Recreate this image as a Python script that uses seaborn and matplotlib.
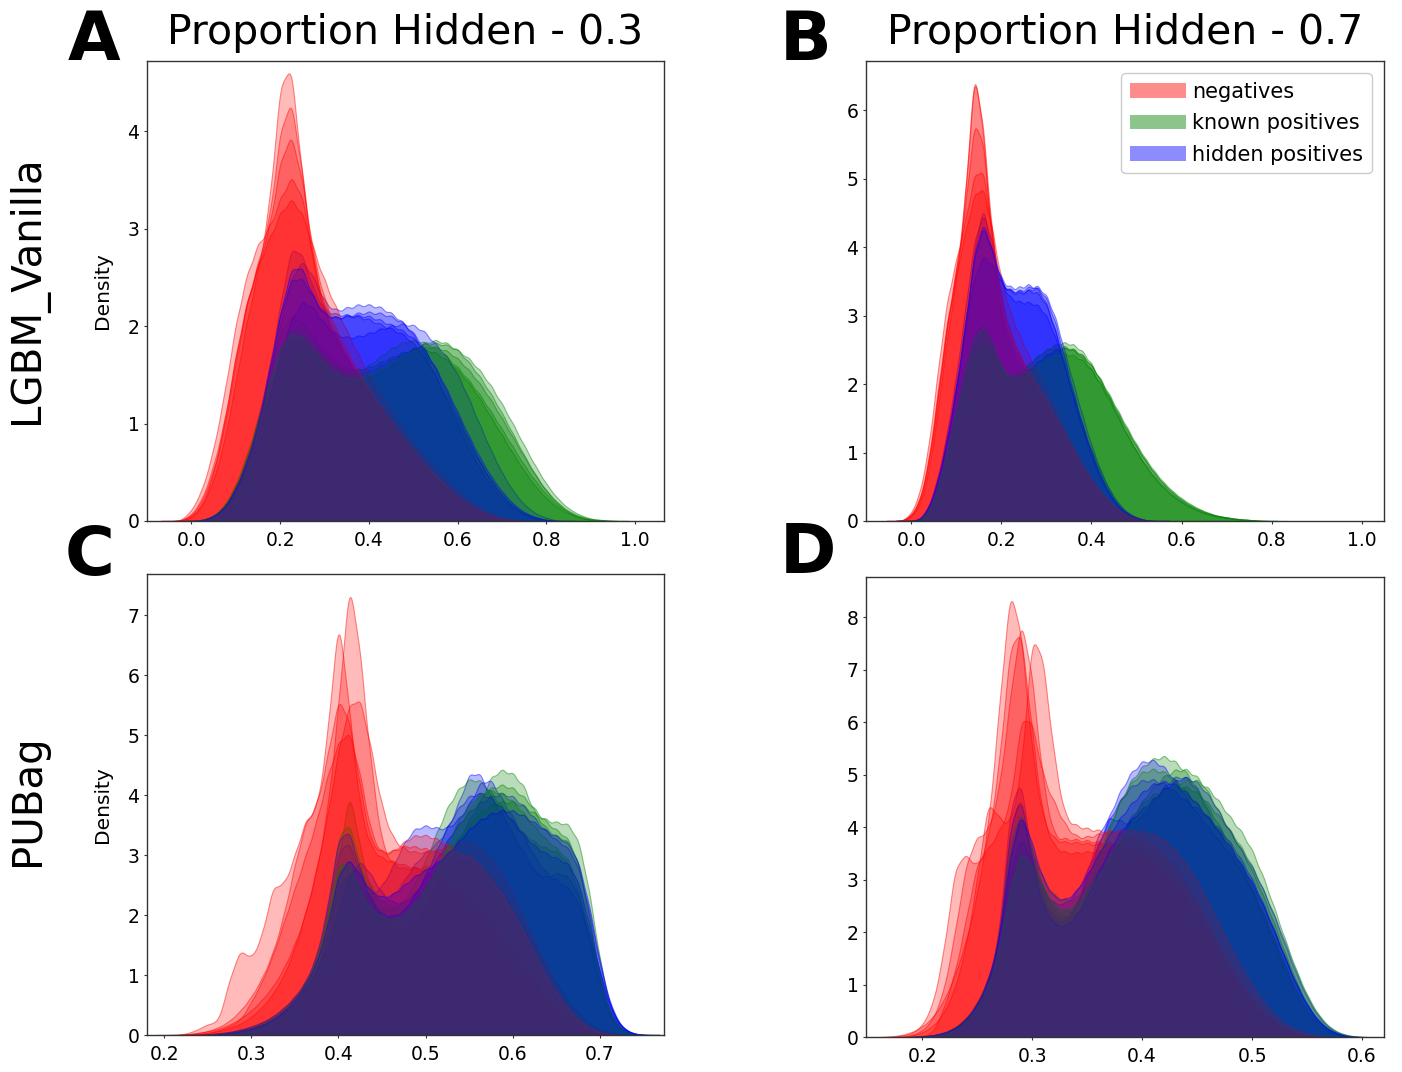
import numpy as np
import matplotlib
matplotlib.use("Agg")
import matplotlib.pyplot as plt
import seaborn as sns
from matplotlib.patches import Patch
from matplotlib.colors import to_rgba

# ---------------- data (density values read on regular score grids) ----------------
CLASSES = ["negatives", "known positives", "hidden positives"]
COLORS = ["red", "green", "blue"]
ROW_LABELS = ["LGBM_Vanilla", "PUBag"]
COL_TITLES = ["Proportion Hidden - 0.3", "Proportion Hidden - 0.7"]
PANEL_LETTERS = ["A", "B", "C", "D"]

# Panel A : LGBM_Vanilla, hidden 0.3  (grid -0.025 .. 1.0, step 0.025)
A_STEP = 0.025
A_X = np.round(-0.025 + A_STEP * np.arange(42), 4)
A_NEG = [
    [0, 0.03, 0.15, 0.4, 0.8, 1.4, 2.0, 2.5, 3.1, 4.4, 4.6, 3.4, 2.5, 2.05, 1.82, 1.62, 1.44, 1.28, 1.12, 0.97, 0.82, 0.68, 0.55, 0.43, 0.32, 0.23, 0.15, 0.09, 0.05, 0.02, 0.01],
    [0, 0.05, 0.2, 0.5, 0.95, 1.6, 2.2, 2.6, 3.0, 3.95, 4.3, 3.5, 2.6, 2.1, 1.85, 1.64, 1.46, 1.3, 1.14, 0.98, 0.83, 0.69, 0.56, 0.44, 0.33, 0.23, 0.15, 0.09, 0.05, 0.02, 0.01],
    [0, 0.1, 0.32, 0.72, 1.3, 2.0, 2.5, 2.8, 2.95, 3.25, 3.5, 3.3, 2.6, 2.15, 1.9, 1.68, 1.48, 1.3, 1.14, 0.98, 0.83, 0.69, 0.56, 0.44, 0.33, 0.24, 0.16, 0.1, 0.05, 0.02, 0.01],
    [0, 0.04, 0.15, 0.45, 0.95, 1.6, 2.1, 2.45, 2.7, 2.95, 3.1, 2.95, 2.6, 2.3, 2.05, 1.82, 1.6, 1.4, 1.22, 1.05, 0.9, 0.75, 0.62, 0.5, 0.39, 0.29, 0.2, 0.13, 0.07, 0.03, 0.01],
    [0, 0.06, 0.22, 0.55, 1.0, 1.65, 2.2, 2.55, 2.9, 3.6, 3.9, 3.4, 2.65, 2.2, 1.92, 1.7, 1.5, 1.32, 1.15, 0.99, 0.84, 0.7, 0.57, 0.45, 0.34, 0.24, 0.16, 0.1, 0.05, 0.02, 0.01],
]
A_KNOWN = [
    [0, 0, 0.01, 0.05, 0.15, 0.35, 0.6, 0.95, 1.35, 1.7, 1.9, 1.9, 1.75, 1.6, 1.5, 1.45, 1.45, 1.5, 1.55, 1.62, 1.7, 1.78, 1.85, 1.88, 1.85, 1.78, 1.65, 1.5, 1.32, 1.12, 0.9, 0.68, 0.48, 0.31, 0.18, 0.09, 0.04, 0.015, 0.005],
    [0, 0, 0, 0.04, 0.15, 0.35, 0.65, 1.0, 1.45, 1.85, 2.02, 1.95, 1.8, 1.65, 1.55, 1.5, 1.48, 1.5, 1.55, 1.6, 1.65, 1.68, 1.68, 1.65, 1.58, 1.48, 1.35, 1.2, 1.02, 0.84, 0.66, 0.49, 0.34, 0.22, 0.13, 0.07, 0.03, 0.01],
    [0, 0, 0, 0.03, 0.1, 0.25, 0.45, 0.75, 1.05, 1.35, 1.55, 1.68, 1.68, 1.6, 1.52, 1.47, 1.45, 1.47, 1.52, 1.58, 1.64, 1.7, 1.74, 1.75, 1.73, 1.68, 1.6, 1.48, 1.33, 1.15, 0.95, 0.74, 0.54, 0.36, 0.22, 0.12, 0.06, 0.02, 0.01],
    [0, 0, 0, 0.04, 0.13, 0.3, 0.55, 0.9, 1.3, 1.65, 1.83, 1.82, 1.7, 1.55, 1.45, 1.4, 1.42, 1.48, 1.56, 1.64, 1.7, 1.72, 1.7, 1.64, 1.56, 1.46, 1.34, 1.2, 1.04, 0.87, 0.7, 0.53, 0.38, 0.25, 0.15, 0.08, 0.03, 0.01],
    [0, 0, 0.01, 0.05, 0.16, 0.36, 0.66, 1.02, 1.42, 1.78, 1.95, 1.9, 1.76, 1.62, 1.52, 1.47, 1.47, 1.5, 1.56, 1.63, 1.7, 1.76, 1.8, 1.8, 1.76, 1.68, 1.56, 1.42, 1.25, 1.06, 0.86, 0.66, 0.47, 0.31, 0.19, 0.1, 0.05, 0.02, 0.01],
]
A_HIDDEN = [
    [0, 0, 0.01, 0.05, 0.15, 0.35, 0.65, 1.05, 1.6, 2.3, 2.95, 2.85, 2.45, 2.25, 2.2, 2.2, 2.18, 2.15, 2.1, 2.05, 2.0, 1.9, 1.75, 1.55, 1.32, 1.08, 0.84, 0.62, 0.43, 0.28, 0.16, 0.08, 0.035, 0.01],
    [0, 0, 0, 0.04, 0.12, 0.3, 0.55, 0.9, 1.35, 1.9, 2.35, 2.52, 2.35, 2.1, 2.02, 2.05, 2.08, 2.08, 2.06, 2.0, 1.92, 1.8, 1.62, 1.4, 1.16, 0.92, 0.7, 0.5, 0.34, 0.21, 0.12, 0.06, 0.02],
    [0, 0, 0, 0.04, 0.12, 0.28, 0.5, 0.8, 1.15, 1.55, 1.9, 2.08, 2.0, 1.85, 1.75, 1.72, 1.73, 1.76, 1.8, 1.83, 1.85, 1.84, 1.78, 1.66, 1.55, 1.38, 1.15, 0.9, 0.66, 0.45, 0.28, 0.15, 0.07, 0.03],
    [0, 0, 0, 0.04, 0.13, 0.32, 0.6, 0.98, 1.5, 2.05, 2.4, 2.4, 2.2, 2.05, 2.0, 2.02, 2.05, 2.06, 2.05, 2.02, 1.96, 1.86, 1.7, 1.5, 1.27, 1.03, 0.8, 0.58, 0.4, 0.25, 0.14, 0.07, 0.03, 0.01],
    [0, 0, 0.01, 0.05, 0.14, 0.33, 0.62, 1.0, 1.55, 2.2, 2.7, 2.7, 2.35, 2.18, 2.15, 2.17, 2.18, 2.17, 2.13, 2.08, 2.02, 1.94, 1.82, 1.63, 1.4, 1.15, 0.9, 0.67, 0.47, 0.31, 0.18, 0.09, 0.04, 0.01],
]

# Panel B : LGBM_Vanilla, hidden 0.7  (grid -0.02 .. 0.84, step 0.02)
B_STEP = 0.02
B_X = np.round(-0.02 + B_STEP * np.arange(44), 4)
B_NEG = [
    [0, 0.08, 0.3, 0.9, 1.9, 2.9, 3.6, 4.6, 6.7, 5.6, 3.9, 2.9, 2.5, 2.25, 2.05, 1.85, 1.65, 1.42, 1.18, 0.95, 0.73, 0.54, 0.38, 0.25, 0.15, 0.08, 0.04, 0.01],
    [0, 0.05, 0.22, 0.7, 1.6, 2.6, 3.4, 4.5, 6.5, 5.6, 4.0, 3.0, 2.55, 2.3, 2.08, 1.88, 1.67, 1.44, 1.2, 0.96, 0.74, 0.55, 0.38, 0.25, 0.15, 0.08, 0.04, 0.01],
    [0, 0.1, 0.4, 1.1, 2.2, 3.2, 3.75, 4.3, 5.0, 5.1, 4.1, 3.2, 2.7, 2.4, 2.15, 1.92, 1.7, 1.46, 1.22, 0.98, 0.76, 0.56, 0.39, 0.26, 0.16, 0.09, 0.04, 0.01],
    [0, 0.06, 0.25, 0.8, 1.7, 2.7, 3.4, 3.95, 4.5, 4.6, 4.0, 3.3, 2.85, 2.55, 2.28, 2.03, 1.79, 1.54, 1.28, 1.03, 0.8, 0.59, 0.41, 0.27, 0.16, 0.09, 0.04, 0.01],
    [0, 0.07, 0.28, 0.85, 1.8, 2.8, 3.5, 4.4, 5.7, 5.4, 3.9, 3.0, 2.6, 2.35, 2.12, 1.9, 1.7, 1.46, 1.22, 0.98, 0.76, 0.56, 0.39, 0.26, 0.15, 0.08, 0.04, 0.01],
]
B_KNOWN = [
    [0, 0, 0.02, 0.15, 0.5, 1.05, 1.6, 2.2, 2.7, 2.85, 2.55, 2.15, 2.02, 2.05, 2.15, 2.28, 2.38, 2.45, 2.48, 2.45, 2.35, 2.18, 1.96, 1.72, 1.47, 1.22, 1.0, 0.8, 0.63, 0.49, 0.37, 0.28, 0.2, 0.14, 0.1, 0.07, 0.05, 0.03, 0.02, 0.01, 0.005],
    [0, 0, 0.01, 0.12, 0.42, 0.92, 1.45, 2.0, 2.5, 2.7, 2.45, 2.1, 1.98, 2.0, 2.1, 2.22, 2.32, 2.4, 2.42, 2.4, 2.32, 2.17, 1.97, 1.74, 1.5, 1.26, 1.04, 0.84, 0.66, 0.51, 0.39, 0.29, 0.21, 0.15, 0.1, 0.07, 0.05, 0.03, 0.02, 0.01],
    [0, 0, 0.02, 0.13, 0.45, 0.95, 1.5, 2.05, 2.5, 2.6, 2.4, 2.1, 2.0, 2.05, 2.17, 2.3, 2.4, 2.47, 2.5, 2.47, 2.38, 2.2, 1.97, 1.72, 1.45, 1.2, 0.97, 0.77, 0.6, 0.46, 0.35, 0.26, 0.19, 0.13, 0.09, 0.06, 0.04, 0.02, 0.01],
    [0, 0, 0.01, 0.1, 0.38, 0.85, 1.35, 1.85, 2.3, 2.45, 2.3, 2.08, 2.0, 2.05, 2.15, 2.27, 2.35, 2.4, 2.4, 2.36, 2.28, 2.14, 1.95, 1.73, 1.5, 1.27, 1.05, 0.85, 0.68, 0.53, 0.41, 0.31, 0.23, 0.16, 0.11, 0.07, 0.05, 0.03, 0.02, 0.01],
    [0, 0, 0.02, 0.14, 0.48, 1.0, 1.55, 2.12, 2.6, 2.75, 2.5, 2.15, 2.0, 2.0, 2.08, 2.18, 2.27, 2.33, 2.35, 2.33, 2.26, 2.12, 1.93, 1.72, 1.49, 1.26, 1.04, 0.84, 0.67, 0.52, 0.4, 0.3, 0.22, 0.16, 0.11, 0.07, 0.05, 0.03, 0.02, 0.01],
]
B_HIDDEN = [
    [0, 0, 0.02, 0.2, 0.6, 1.2, 1.9, 2.8, 4.0, 4.75, 3.9, 3.5, 3.4, 3.38, 3.4, 3.38, 3.2, 2.8, 2.3, 1.8, 1.35, 1.05, 0.72, 0.45, 0.25, 0.12, 0.05, 0.01],
    [0, 0, 0.02, 0.2, 0.6, 1.2, 1.95, 2.85, 3.8, 4.2, 3.75, 3.2, 3.0, 2.95, 2.95, 2.92, 2.78, 2.48, 2.08, 1.68, 1.3, 0.93, 0.62, 0.38, 0.21, 0.1, 0.04, 0.01],
    [0, 0, 0.02, 0.17, 0.55, 1.1, 1.8, 2.6, 3.3, 3.6, 3.45, 3.2, 3.1, 3.1, 3.15, 3.18, 3.05, 2.75, 2.3, 1.85, 1.42, 1.02, 0.68, 0.42, 0.23, 0.11, 0.05, 0.01],
    [0, 0, 0.02, 0.19, 0.58, 1.15, 1.85, 2.7, 3.7, 4.15, 3.7, 3.3, 3.2, 3.2, 3.25, 3.2, 3.0, 2.62, 2.15, 1.68, 1.25, 0.87, 0.57, 0.35, 0.19, 0.09, 0.04, 0.01],
    [0, 0, 0.02, 0.18, 0.56, 1.12, 1.85, 2.75, 3.75, 4.2, 3.8, 3.35, 3.22, 3.2, 3.25, 3.3, 3.15, 2.8, 2.3, 1.8, 1.35, 0.95, 0.62, 0.38, 0.2, 0.1, 0.04, 0.01],
]

# Panel C : PUBag, hidden 0.3  (grid 0.2 .. 0.75, step 0.0125)
C_STEP = 0.0125
C_X = np.round(0.2 + C_STEP * np.arange(45), 5)
C_NEG = [
    [0, 0, 0.01, 0.03, 0.06, 0.1, 0.17, 0.27, 0.4, 0.58, 0.8, 1.1, 1.5, 2.0, 2.7, 3.7, 5.4, 7.7, 6.3, 4.4, 3.1, 2.8, 2.75, 2.75, 2.78, 2.8, 2.82, 2.85, 2.85, 2.78, 2.62, 2.4, 2.12, 1.8, 1.48, 1.15, 0.85, 0.58, 0.36, 0.2, 0.09, 0.03, 0.01],
    [0, 0, 0.02, 0.08, 0.18, 0.2, 0.9, 1.42, 1.2, 1.6, 2.45, 2.4, 2.9, 3.5, 3.6, 4.8, 7.0, 5.2, 3.6, 3.0, 2.85, 2.8, 2.75, 2.7, 2.65, 2.55, 2.45, 2.32, 2.18, 2.0, 1.8, 1.58, 1.35, 1.1, 0.85, 0.62, 0.42, 0.26, 0.14, 0.06, 0.02],
    [0, 0, 0.01, 0.03, 0.06, 0.12, 0.22, 0.38, 0.6, 0.9, 1.3, 1.9, 2.7, 3.4, 3.6, 4.4, 5.4, 5.0, 3.9, 3.0, 2.9, 2.9, 3.0, 2.98, 2.95, 2.9, 2.85, 2.78, 2.68, 2.52, 2.3, 2.05, 1.75, 1.42, 1.1, 0.8, 0.54, 0.33, 0.18, 0.08, 0.03, 0.01],
    [0, 0, 0, 0.01, 0.03, 0.06, 0.1, 0.17, 0.27, 0.42, 0.62, 0.9, 1.3, 1.85, 2.5, 3.3, 4.3, 5.0, 5.1, 4.3, 3.4, 2.95, 2.8, 2.75, 2.75, 2.78, 2.85, 2.9, 2.9, 2.82, 2.65, 2.42, 2.12, 1.78, 1.42, 1.06, 0.74, 0.47, 0.27, 0.13, 0.05, 0.02],
    [0, 0, 0, 0.01, 0.03, 0.07, 0.13, 0.22, 0.5, 0.8, 1.2, 1.7, 2.2, 2.7, 3.2, 3.9, 4.4, 4.6, 3.9, 3.0, 2.7, 2.75, 2.9, 3.0, 3.0, 2.95, 2.85, 2.72, 2.7, 2.55, 2.35, 2.12, 1.85, 1.55, 1.22, 0.9, 0.62, 0.4, 0.22, 0.1, 0.04, 0.01],
]
C_KNOWN = [
    [0, 0, 0, 0, 0.01, 0.02, 0.04, 0.07, 0.12, 0.18, 0.27, 0.4, 0.55, 0.75, 1.05, 1.6, 3.0, 4.4, 3.2, 2.5, 2.0, 1.85, 1.85, 1.95, 2.15, 2.6, 2.95, 3.35, 3.75, 4.05, 4.5, 4.62, 4.55, 4.35, 3.85, 3.6, 3.45, 3.4, 3.05, 2.1, 0.95, 0.3, 0.07, 0.01],
    [0, 0, 0, 0, 0.01, 0.02, 0.04, 0.07, 0.12, 0.19, 0.29, 0.43, 0.62, 0.88, 1.25, 1.9, 2.8, 3.0, 2.6, 2.25, 2.1, 2.1, 2.25, 2.55, 2.95, 3.4, 3.85, 4.15, 4.32, 4.3, 4.1, 3.85, 3.6, 3.4, 3.25, 3.15, 3.1, 2.95, 2.45, 1.6, 0.75, 0.25, 0.06, 0.01],
    [0, 0, 0, 0, 0, 0.01, 0.03, 0.06, 0.1, 0.16, 0.25, 0.38, 0.55, 0.78, 1.1, 1.55, 2.2, 2.7, 2.75, 2.45, 2.2, 2.1, 2.12, 2.25, 2.45, 2.7, 2.98, 3.25, 3.5, 3.68, 3.8, 3.85, 3.85, 3.78, 3.65, 3.55, 3.5, 3.5, 3.25, 2.4, 1.2, 0.4, 0.1, 0.02],
    [0, 0, 0, 0, 0.01, 0.02, 0.04, 0.08, 0.13, 0.2, 0.3, 0.44, 0.62, 0.87, 1.25, 2.0, 3.3, 3.5, 2.75, 2.2, 1.95, 1.88, 1.92, 2.1, 2.4, 2.75, 3.15, 3.5, 3.78, 3.95, 4.0, 3.95, 3.82, 3.62, 3.4, 3.2, 3.05, 2.9, 2.5, 1.7, 0.82, 0.28, 0.07, 0.01],
    [0, 0, 0, 0, 0, 0.01, 0.03, 0.06, 0.1, 0.16, 0.25, 0.38, 0.56, 0.82, 1.2, 1.9, 2.85, 2.8, 2.35, 2.05, 1.92, 1.9, 1.98, 2.15, 2.4, 2.7, 3.05, 3.4, 3.7, 3.92, 4.05, 4.1, 4.05, 3.9, 3.7, 3.5, 3.35, 3.25, 2.85, 1.95, 0.9, 0.3, 0.07, 0.01],
]
C_HIDDEN = [
    [0, 0, 0, 0, 0.01, 0.03, 0.05, 0.09, 0.14, 0.21, 0.31, 0.45, 0.64, 0.9, 1.3, 2.1, 3.3, 3.4, 2.8, 2.5, 2.3, 2.45, 2.7, 3.0, 3.2, 3.35, 3.6, 4.05, 4.6, 4.6, 4.15, 3.9, 3.5, 3.2, 2.85, 2.75, 2.85, 2.8, 2.5, 1.8, 1.1, 0.45, 0.13, 0.03],
    [0, 0, 0, 0, 0, 0.01, 0.03, 0.06, 0.1, 0.16, 0.25, 0.38, 0.55, 0.78, 1.1, 1.7, 2.6, 2.8, 2.5, 2.4, 2.55, 2.9, 3.3, 3.55, 3.6, 3.55, 3.55, 3.7, 3.95, 4.35, 4.4, 4.05, 3.75, 3.4, 3.05, 2.8, 2.65, 2.55, 2.3, 1.7, 0.9, 0.35, 0.09, 0.02],
    [0, 0, 0, 0, 0, 0.01, 0.02, 0.05, 0.09, 0.15, 0.24, 0.36, 0.52, 0.74, 1.02, 1.4, 1.95, 2.55, 2.8, 2.55, 2.25, 2.1, 2.1, 2.25, 2.5, 2.8, 3.1, 3.35, 3.55, 3.7, 3.8, 3.85, 3.8, 3.65, 3.45, 3.25, 3.1, 3.0, 2.7, 2.0, 1.1, 0.42, 0.12, 0.02],
    [0, 0, 0, 0, 0.01, 0.03, 0.05, 0.09, 0.14, 0.21, 0.31, 0.45, 0.63, 0.88, 1.3, 2.1, 3.3, 3.4, 2.7, 2.2, 1.98, 1.95, 2.05, 2.3, 2.65, 3.05, 3.45, 3.75, 3.95, 4.0, 3.92, 3.75, 3.52, 3.3, 3.12, 3.0, 2.92, 2.85, 2.55, 1.85, 1.0, 0.4, 0.12, 0.03],
    [0, 0, 0, 0, 0, 0.01, 0.03, 0.06, 0.1, 0.16, 0.25, 0.38, 0.56, 0.8, 1.15, 1.75, 2.6, 2.85, 2.55, 2.3, 2.2, 2.25, 2.4, 2.55, 2.65, 2.75, 2.9, 3.1, 3.3, 3.45, 3.55, 3.6, 3.6, 3.52, 3.4, 3.28, 3.18, 3.1, 2.8, 2.1, 1.15, 0.45, 0.12, 0.02],
]

# Panel D : PUBag, hidden 0.7  (grid 0.16 .. 0.6, step 0.01)
D_STEP = 0.01
D_X = np.round(0.16 + D_STEP * np.arange(45), 4)
D_NEG = [
    [0, 0.01, 0.03, 0.08, 0.18, 0.35, 0.65, 1.1, 1.7, 2.5, 3.7, 5.8, 8.1, 7.2, 5.0, 3.8, 3.5, 3.45, 3.45, 3.43, 3.42, 3.4, 3.4, 3.38, 3.36, 3.32, 3.22, 3.05, 2.75, 2.35, 1.95, 1.58, 1.22, 0.9, 0.65, 0.44, 0.28, 0.16, 0.08, 0.03, 0.01],
    [0, 0, 0.02, 0.06, 0.2, 0.6, 1.6, 3.2, 3.4, 3.1, 3.6, 5.0, 7.3, 7.6, 5.6, 4.0, 3.5, 3.4, 3.4, 3.42, 3.44, 3.45, 3.45, 3.42, 3.36, 3.25, 3.08, 2.85, 2.55, 2.2, 1.85, 1.5, 1.16, 0.86, 0.6, 0.4, 0.25, 0.14, 0.07, 0.03, 0.01],
    [0, 0, 0, 0.03, 0.1, 0.3, 0.8, 1.8, 3.0, 3.45, 3.5, 4.2, 5.8, 7.3, 6.2, 4.3, 3.4, 3.4, 3.38, 3.36, 3.35, 3.33, 3.3, 3.25, 3.15, 3.02, 2.85, 2.65, 2.4, 2.12, 1.75, 1.4, 1.05, 0.76, 0.52, 0.34, 0.2, 0.11, 0.05, 0.02],
    [0, 0, 0, 0.02, 0.07, 0.18, 0.4, 0.8, 1.5, 2.6, 4.0, 3.6, 3.5, 4.3, 6.8, 6.3, 4.6, 3.6, 3.5, 3.45, 3.42, 3.4, 3.38, 3.34, 3.28, 3.15, 2.98, 2.78, 2.52, 2.22, 1.9, 1.55, 1.22, 0.92, 0.66, 0.44, 0.27, 0.15, 0.07, 0.03, 0.01],
    [0, 0, 0, 0, 0.02, 0.06, 0.5, 1.1, 2.0, 3.0, 3.2, 3.5, 3.9, 5.5, 5.4, 4.4, 4.0, 3.6, 3.4, 3.4, 3.45, 3.5, 3.52, 3.52, 3.5, 3.45, 3.35, 3.18, 2.95, 2.65, 2.3, 1.92, 1.55, 1.2, 0.88, 0.6, 0.38, 0.22, 0.12, 0.05, 0.02],
]
D_KNOWN = [
    [0, 0, 0, 0, 0.01, 0.03, 0.07, 0.15, 0.3, 0.55, 0.95, 1.7, 4.2, 4.9, 3.6, 2.9, 2.5, 2.35, 2.4, 2.65, 3.0, 3.45, 3.9, 4.3, 4.65, 4.95, 5.15, 5.28, 5.3, 5.15, 4.85, 4.45, 4.05, 3.7, 3.3, 2.8, 2.25, 1.65, 1.1, 0.65, 0.33, 0.14, 0.05, 0.01],
    [0, 0, 0, 0, 0.01, 0.03, 0.07, 0.16, 0.32, 0.6, 1.05, 1.8, 3.4, 4.2, 3.4, 2.6, 2.2, 2.1, 2.25, 2.7, 3.3, 3.9, 4.4, 4.8, 5.05, 5.2, 5.25, 5.15, 4.95, 4.65, 4.3, 3.95, 3.6, 3.2, 2.75, 2.25, 1.72, 1.22, 0.78, 0.44, 0.21, 0.08, 0.02],
    [0, 0, 0, 0, 0.01, 0.03, 0.08, 0.17, 0.34, 0.62, 1.05, 1.7, 2.9, 3.7, 3.4, 2.9, 2.6, 2.5, 2.55, 2.75, 3.05, 3.4, 3.75, 4.05, 4.3, 4.45, 4.55, 4.6, 4.6, 4.5, 4.3, 4.05, 3.8, 3.5, 3.15, 2.72, 2.22, 1.68, 1.15, 0.7, 0.37, 0.16, 0.05, 0.01],
    [0, 0, 0, 0, 0.01, 0.03, 0.08, 0.17, 0.33, 0.6, 1.0, 1.8, 3.7, 4.3, 3.5, 2.75, 2.4, 2.3, 2.45, 2.85, 3.4, 3.95, 4.4, 4.75, 4.95, 5.0, 4.95, 4.8, 4.6, 4.35, 4.1, 3.85, 3.55, 3.2, 2.8, 2.32, 1.8, 1.28, 0.82, 0.46, 0.22, 0.08, 0.02],
    [0, 0, 0, 0, 0.01, 0.03, 0.07, 0.15, 0.3, 0.55, 0.95, 1.6, 2.8, 3.5, 3.2, 2.75, 2.45, 2.35, 2.45, 2.7, 3.0, 3.35, 3.7, 4.0, 4.25, 4.45, 4.6, 4.72, 4.8, 4.8, 4.65, 4.4, 4.1, 3.85, 3.5, 3.0, 2.42, 1.82, 1.25, 0.78, 0.42, 0.19, 0.07, 0.02],
]
D_HIDDEN = [
    [0, 0, 0, 0, 0.01, 0.03, 0.08, 0.18, 0.36, 0.65, 1.1, 2.0, 4.7, 5.3, 3.5, 2.7, 2.35, 2.3, 2.6, 3.3, 4.1, 4.45, 4.35, 4.3, 4.45, 4.75, 5.05, 5.25, 5.25, 5.0, 4.55, 4.1, 3.75, 3.45, 3.1, 2.65, 2.15, 1.6, 1.08, 0.65, 0.34, 0.15, 0.05, 0.01],
    [0, 0, 0, 0, 0.01, 0.03, 0.08, 0.17, 0.34, 0.62, 1.05, 1.8, 3.5, 4.2, 3.3, 2.55, 2.2, 2.15, 2.4, 2.9, 3.5, 4.05, 4.5, 4.85, 5.05, 5.08, 4.95, 4.7, 4.4, 4.1, 3.85, 3.6, 3.35, 3.05, 2.7, 2.28, 1.8, 1.3, 0.85, 0.5, 0.25, 0.1, 0.03],
    [0, 0, 0, 0, 0.01, 0.03, 0.07, 0.16, 0.32, 0.58, 1.0, 1.65, 3.0, 3.6, 3.1, 2.6, 2.35, 2.35, 2.55, 2.95, 3.4, 3.85, 4.2, 4.45, 4.55, 4.56, 4.5, 4.35, 4.18, 4.05, 3.9, 3.7, 3.45, 3.15, 2.8, 2.38, 1.9, 1.4, 0.93, 0.55, 0.28, 0.12, 0.04],
    [0, 0, 0, 0, 0.01, 0.03, 0.08, 0.17, 0.34, 0.62, 1.05, 1.85, 4.3, 4.9, 3.4, 2.6, 2.25, 2.2, 2.4, 2.8, 3.3, 3.75, 4.1, 4.35, 4.55, 4.75, 4.95, 5.12, 5.2, 5.1, 4.85, 4.5, 4.1, 3.75, 3.4, 2.95, 2.45, 1.88, 1.3, 0.8, 0.43, 0.19, 0.07, 0.02],
    [0, 0, 0, 0, 0.01, 0.03, 0.07, 0.15, 0.3, 0.56, 0.98, 1.7, 3.2, 4.0, 3.4, 2.75, 2.45, 2.4, 2.55, 2.85, 3.2, 3.55, 3.85, 4.1, 4.3, 4.45, 4.5, 4.45, 4.3, 4.1, 3.85, 3.6, 3.35, 3.05, 2.72, 2.32, 1.86, 1.38, 0.92, 0.55, 0.28, 0.12, 0.04],
]

# ---------------- style ----------------
sns.set_style("white")
plt.rcParams["font.family"] = ["DejaVu Sans"]
for key in ["text.color", "axes.labelcolor", "xtick.color", "ytick.color"]:
    plt.rcParams[key] = "black"
plt.rcParams["axes.edgecolor"] = "#333333"
plt.rcParams["axes.linewidth"] = 1.0

fig = plt.figure(figsize=(14.02, 10.72), dpi=100)
ax_rects = [
    [0.1049, 0.5140, 0.3687, 0.4291],
    [0.6177, 0.5140, 0.3695, 0.4291],
    [0.1049, 0.0345, 0.3687, 0.4301],
    [0.6177, 0.0326, 0.3695, 0.4291],
]
panels = [
    dict(x=A_X, step=A_STEP, groups=[A_NEG, A_KNOWN, A_HIDDEN], xlim=(-0.1, 1.065), ylim=(0, 4.72),
         xticks=[0.0, 0.2, 0.4, 0.6, 0.8, 1.0], yticks=[0, 1, 2, 3, 4]),
    dict(x=B_X, step=B_STEP, groups=[B_NEG, B_KNOWN, B_HIDDEN], xlim=(-0.1, 1.049), ylim=(0, 6.72),
         xticks=[0.0, 0.2, 0.4, 0.6, 0.8, 1.0], yticks=[0, 1, 2, 3, 4, 5, 6]),
    dict(x=C_X, step=C_STEP, groups=[C_NEG, C_KNOWN, C_HIDDEN], xlim=(0.1805, 0.7734), ylim=(0, 7.69),
         xticks=[0.2, 0.3, 0.4, 0.5, 0.6, 0.7], yticks=[0, 1, 2, 3, 4, 5, 6, 7]),
    dict(x=D_X, step=D_STEP, groups=[D_NEG, D_KNOWN, D_HIDDEN], xlim=(0.149, 0.62), ylim=(0, 8.77),
         xticks=[0.2, 0.3, 0.4, 0.5, 0.6], yticks=[0, 1, 2, 3, 4, 5, 6, 7, 8]),
]

ALPHA = 0.27
axes = []
for i, (rect, p) in enumerate(zip(ax_rects, panels)):
    ax = fig.add_axes(rect)
    axes.append(ax)
    grid = p["x"]
    n_rep = len(p["groups"][0])
    for r in range(n_rep):
        for vals, color in zip(p["groups"], COLORS):
            dens = np.asarray(vals[r], dtype=float)
            xs_all = grid[:len(dens)]
            keep = dens > 0
            xs, ws = xs_all[keep], dens[keep]
            sd = np.sqrt(np.cov(xs, aweights=ws))
            sns.kdeplot(x=xs, weights=ws, bw_method=0.55 * p["step"] / sd, fill=True,
                        color=color, alpha=ALPHA, edgecolor=to_rgba(color, 0.45),
                        linewidth=0.8, gridsize=600, cut=3, ax=ax)
    ax.set_xlim(*p["xlim"])
    ax.set_ylim(*p["ylim"])
    ax.set_xticks(p["xticks"])
    ax.set_yticks(p["yticks"])
    ax.tick_params(axis="both", which="both", bottom=True, left=True, length=2.5, width=0.8,
                   color="#333333", labelsize=13.5, labelcolor="black")
    ax.tick_params(axis="x", pad=5)
    ax.tick_params(axis="y", pad=3)
    for s in ax.spines.values():
        s.set_visible(True)
        s.set_color("#333333")
        s.set_linewidth(1.0)
    if i % 2 == 0:
        ax.set_ylabel("Density", fontsize=14.5, labelpad=11, color="black")
    else:
        ax.set_ylabel("")
    ax.set_xlabel("")
    if i < 2:
        ax.set_title(COL_TITLES[i], fontsize=29.5, pad=12, color="black")

# legend in panel B
handles = [Patch(facecolor=to_rgba(c, 0.45), edgecolor="none") for c in COLORS]
leg = axes[1].legend(handles, CLASSES, loc="upper right", fontsize=15, handlelength=2.7,
                     handletextpad=0.3, labelspacing=0.55, frameon=True, fancybox=True,
                     edgecolor="#cccccc", framealpha=1.0, borderaxespad=0.6)
for t in leg.get_texts():
    t.set_color("black")

# row labels
fig.text(28 / 1402, 1 - 290 / 1072, ROW_LABELS[0], rotation=90, fontsize=29, ha="center", va="center", color="black")
fig.text(28 / 1402, 1 - 800 / 1072, ROW_LABELS[1], rotation=90, fontsize=29, ha="center", va="center", color="black")

# panel letters
letter_pos = [(94, 60), (806, 60), (90, 575), (808, 573)]
for letter, (px, py) in zip(PANEL_LETTERS, letter_pos):
    fig.text(px / 1402, 1 - py / 1072, letter, fontsize=49, fontweight="bold",
             ha="center", va="baseline", color="black")

fig.savefig("out.png", dpi=100)
